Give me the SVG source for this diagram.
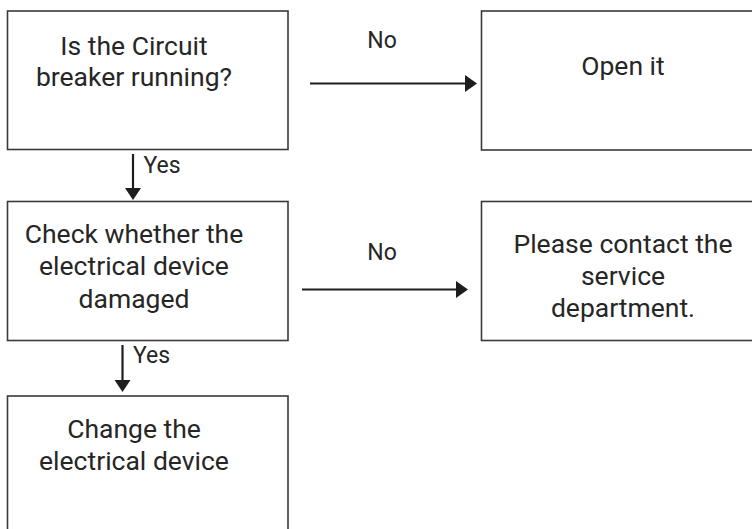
<svg xmlns="http://www.w3.org/2000/svg" width="752" height="529" viewBox="0 0 752 529">
<style>
.box{fill:#fff;stroke:#3a3a3a;stroke-width:1.6}
.t{font-family:Roboto,"Liberation Sans",sans-serif;font-size:26.5px;fill:#262626;text-anchor:middle}
.lbl{font-family:Roboto,"Liberation Sans",sans-serif;font-size:23px;fill:#262626}
.ln{stroke:#1e1e1e;stroke-width:2.2;fill:none}
.hd{fill:#1e1e1e}
</style>
<rect width="752" height="529" fill="#fff"/>
<g id="n1"><rect class="box" x="7.5" y="11" width="280.5" height="138.5"/>
<text class="t" x="134" y="55">Is the Circuit</text>
<text class="t" x="134" y="86">breaker running?</text></g>
<g id="n2"><rect class="box" x="481.5" y="11" width="290" height="139"/>
<text class="t" x="623" y="75">Open it</text></g>
<g id="n3"><rect class="box" x="7.5" y="201.5" width="280.5" height="139"/>
<text class="t" x="134" y="243">Check whether the</text>
<text class="t" x="134" y="275">electrical device</text>
<text class="t" x="134" y="307.5">damaged</text></g>
<g id="n4"><rect class="box" x="481.5" y="201.5" width="290" height="139"/>
<text class="t" x="623" y="252.5">Please contact the</text>
<text class="t" x="623" y="284.5">service</text>
<text class="t" x="623" y="316.5">department.</text></g>
<g id="n5"><rect class="box" x="7.5" y="396" width="280.5" height="160"/>
<text class="t" x="134" y="438">Change the</text>
<text class="t" x="134" y="470">electrical device</text></g>
<g id="connectors">
<line class="ln" x1="310" y1="83.5" x2="466" y2="83.5"/>
<polygon class="hd" points="465,75 477,83.5 465,92"/>
<text class="lbl" x="382" y="48" text-anchor="middle">No</text>
<line class="ln" x1="302" y1="289.5" x2="457" y2="289.5"/>
<polygon class="hd" points="456,281 468,289.5 456,298"/>
<text class="lbl" x="382" y="260" text-anchor="middle">No</text>
<line class="ln" x1="133" y1="154" x2="133" y2="189"/>
<polygon class="hd" points="125,188 141,188 133,200"/>
<text class="lbl" x="143.5" y="172.5">Yes</text>
<line class="ln" x1="122.5" y1="345" x2="122.5" y2="381"/>
<polygon class="hd" points="114.5,380 130.5,380 122.5,392"/>
<text class="lbl" x="133" y="363">Yes</text>
</g>
</svg>
